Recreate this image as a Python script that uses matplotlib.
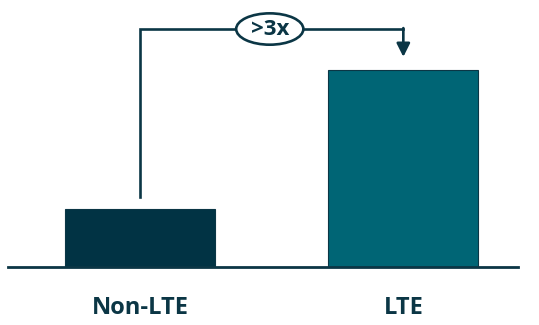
import matplotlib.pyplot as plt
from matplotlib.patches import Ellipse

categories = ["Non-LTE", "LTE"]
values = [1.0, 3.4]
ratio_label = ">3x"

bar_colors = ["#013344", "#006575"]
dark = "#0b3645"

fig = plt.figure(figsize=(5.39, 3.25), dpi=100)
ax = fig.add_axes([0.0, 58 / 325, 1.0, 267 / 325])

x = list(range(len(categories)))
ax.bar(x, values, width=0.57, color=bar_colors, edgecolor=dark, linewidth=0.8, zorder=2)

ax.set_xlim(-0.531, 1.515)
ax.set_ylim(0, 4.6)
for s in ["top", "right", "left"]:
    ax.spines[s].set_visible(False)
ax.spines["bottom"].set_color(dark)
ax.spines["bottom"].set_linewidth(2)
ax.spines["bottom"].set_bounds(-0.501, 1.435)
ax.set_yticks([])
ax.set_xticks(x)
ax.set_xticklabels(categories, fontsize=17, fontweight="bold", color=dark, family="Open Sans")
ax.tick_params(axis="x", length=0, pad=21)

# connector bracket between the bars
top = 4.1
ax.plot([x[0], x[0], x[1]], [values[0] + 0.2, top, top], color=dark, lw=1.9,
        solid_joinstyle="miter", zorder=3)
ax.annotate("", xy=(x[1], values[1] + 0.22), xytext=(x[1], top + 0.016),
            arrowprops=dict(arrowstyle="-|>,head_length=0.8,head_width=0.4",
                            color=dark, lw=1.9, shrinkA=0, shrinkB=0), zorder=3)
mid = (x[0] + x[1]) / 2 - 0.007
ax.add_patch(Ellipse((mid, top), 0.255, 0.54, facecolor="white", edgecolor=dark,
                     lw=1.9, zorder=4))
ax.text(mid, top, ratio_label, ha="center", va="center", fontsize=16,
        fontweight="bold", color=dark, family="Open Sans", zorder=5)

fig.savefig("out.png", dpi=100)
